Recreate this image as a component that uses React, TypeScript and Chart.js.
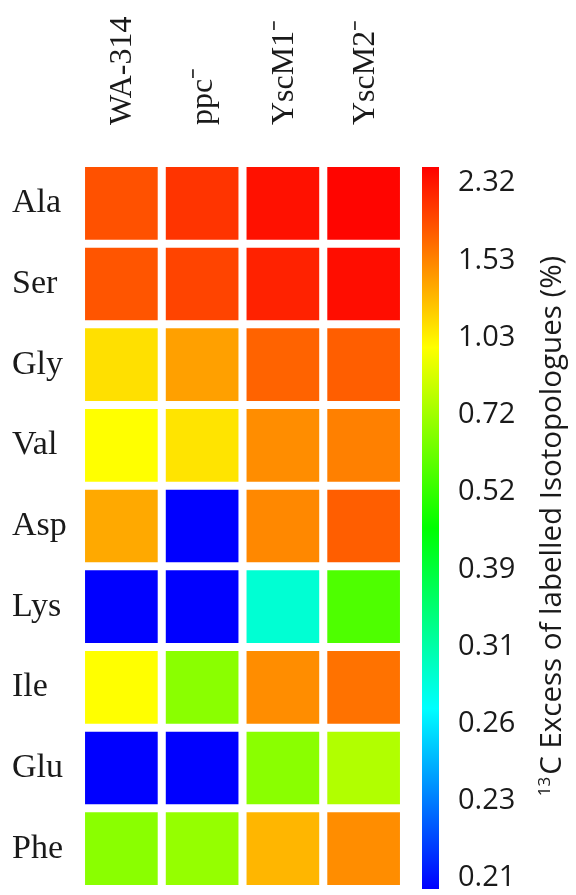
import React, { useEffect, useRef } from 'react';
import { Chart, registerables } from 'chart.js';

Chart.register(...registerables);

// ---- data ----
const rows = ['Ala', 'Ser', 'Gly', 'Val', 'Asp', 'Lys', 'Ile', 'Glu', 'Phe'];
const columns = ['WA-314', 'ppc\u207B', 'YscM1\u207B', 'YscM2\u207B'];
const wa314 = [1.9, 1.87, 1.11, 0.99, 1.36, 0.2, 0.99, 0.2, 0.68];
const ppc = [2.11, 1.99, 1.4, 1.09, 0.2, 0.2, 0.68, 0.2, 0.7];
const yscM1 = [2.36, 2.24, 1.77, 1.49, 1.51, 0.29, 1.49, 0.68, 1.3];
const yscM2 = [2.45, 2.39, 1.81, 1.56, 1.81, 0.57, 1.66, 0.77, 1.49];
const columnValues = [wa314, ppc, yscM1, yscM2];
// colour bar tick labels, bottom to top
const colorbarTicks = [0.21, 0.23, 0.26, 0.31, 0.39, 0.52, 0.72, 1.03, 1.53, 2.32];
const colorbarTitleSup = '13';
const colorbarTitle = 'C Excess of labelled Isotopologues (%)';

// colour bar axis range (in tick-index units)
const CB_MIN = -0.14;
const CB_MAX = 9.21;

function valueToPos(v: number): number {
  const t = colorbarTicks;
  const n = t.length;
  if (v <= t[0]) return (v - t[0]) / (t[1] - t[0]);
  for (let i = 1; i < n; i++) {
    if (v <= t[i]) return i - 1 + (v - t[i - 1]) / (t[i] - t[i - 1]);
  }
  return n - 1 + (v - t[n - 1]) / (t[n - 1] - t[n - 2]);
}

function valueToColor(v: number): string {
  let f = (valueToPos(v) - CB_MIN) / (CB_MAX - CB_MIN);
  f = Math.max(0, Math.min(1, f));
  const hue = 240 * (1 - f);
  return `hsl(${hue.toFixed(1)}, 100%, 50%)`;
}

const serif = 'Liberation Serif';
const sans = 'Open Sans';
const textColor = '#1a1a1a';

const zeroPadding = (scale: any) => {
  scale.paddingTop = 0;
  scale.paddingBottom = 0;
  scale.paddingLeft = 0;
  scale.paddingRight = 0;
};

const titlePlugin = {
  id: 'cbTitle',
  afterDraw(chart: any) {
    const { ctx, chartArea } = chart;
    const cx = 140;
    const cy = (chartArea.top + chartArea.bottom) / 2 - 2;
    ctx.save();
    ctx.translate(cx, cy);
    ctx.rotate(-Math.PI / 2);
    ctx.fillStyle = textColor;
    ctx.textBaseline = 'alphabetic';
    ctx.textAlign = 'left';
    const mainFont = `29.5px "${sans}"`;
    const supFont = `17px "${sans}"`;
    ctx.font = supFont;
    const supW = ctx.measureText(colorbarTitleSup).width + 2;
    ctx.font = mainFont;
    const mainW = ctx.measureText(colorbarTitle).width;
    const total = supW + mainW;
    const x0 = -total / 2;
    const base = 11;
    ctx.font = supFont;
    ctx.fillText(colorbarTitleSup, x0, base - 11);
    ctx.font = mainFont;
    ctx.fillText(colorbarTitle, x0 + supW, base);
    ctx.restore();
  },
};

export default function App() {
  const heatRef = useRef<HTMLCanvasElement | null>(null);
  const barRef = useRef<HTMLCanvasElement | null>(null);

  useEffect(() => {
    const heatmap = new Chart(heatRef.current as HTMLCanvasElement, {
      type: 'bar',
      data: {
        labels: columns,
        datasets: rows.map((row, i) => ({
          label: row,
          data: columns.map(() => [i - 0.45, i + 0.45]),
          backgroundColor: columnValues.map((col) => valueToColor(col[i])),
          borderWidth: 0,
          grouped: false,
          barPercentage: 1,
          categoryPercentage: 0.9,
        })),
      },
      options: {
        responsive: false,
        animation: false,
        layout: { padding: { left: 12, right: 6, top: 0, bottom: 6 } },
        plugins: { legend: { display: false }, tooltip: { enabled: false } },
        scales: {
          x: {
            position: 'top',
            grid: { display: false, drawTicks: false },
            border: { display: false },
            ticks: {
              minRotation: 90,
              maxRotation: 90,
              padding: 38,
              labelOffset: 40,
              color: textColor,
              font: { family: serif, size: 32 },
            },
            afterFit: (scale: any) => {
              scale.height = 163;
              zeroPadding(scale);
            },
          },
          y: {
            type: 'linear',
            reverse: true,
            min: -0.5,
            max: 8.5,
            grid: { display: false, drawTicks: false },
            border: { display: false },
            afterBuildTicks: (scale: any) => {
              scale.ticks = rows.map((_, i) => ({ value: i }));
            },
            ticks: {
              autoSkip: false,
              crossAlign: 'far',
              color: textColor,
              font: { family: serif, size: 34 },
              callback: (v: any) => rows[Math.round(v)] ?? '',
            },
            afterFit: (scale: any) => {
              scale.width = 69;
              zeroPadding(scale);
            },
          },
        },
      },
    } as any);

    const colorbar = new Chart(barRef.current as HTMLCanvasElement, {
      type: 'bar',
      data: {
        labels: ['scale'],
        datasets: [
          {
            data: [[CB_MIN, CB_MAX]],
            borderWidth: 0,
            barPercentage: 1,
            categoryPercentage: 1,
            backgroundColor: (c: any) => {
              const area = c.chart.chartArea;
              if (!area) return '#ff0000';
              const g = c.chart.ctx.createLinearGradient(0, area.bottom, 0, area.top);
              g.addColorStop(0, '#0000ff');
              g.addColorStop(0.25, '#00ffff');
              g.addColorStop(0.5, '#00ff00');
              g.addColorStop(0.75, '#ffff00');
              g.addColorStop(1, '#ff0000');
              return g;
            },
          },
        ],
      },
      options: {
        responsive: false,
        animation: false,
        layout: { padding: { left: 12, right: 0, top: 167, bottom: 6 } },
        plugins: { legend: { display: false }, tooltip: { enabled: false } },
        scales: {
          x: { display: false },
          y: {
            position: 'right',
            min: CB_MIN,
            max: CB_MAX,
            grid: { display: false, drawTicks: false },
            border: { display: false },
            afterBuildTicks: (scale: any) => {
              scale.ticks = colorbarTicks.map((_, i) => ({ value: i }));
            },
            ticks: {
              autoSkip: false,
              padding: 19,
              color: textColor,
              font: { family: sans, size: 29 },
              callback: (v: any) => {
                const t = colorbarTicks[Math.round(v)];
                return t !== undefined ? t.toFixed(2) : '';
              },
            },
            afterFit: (scale: any) => {
              scale.width = 137;
              zeroPadding(scale);
            },
          },
        },
      },
      plugins: [titlePlugin],
    } as any);

    return () => {
      heatmap.destroy();
      colorbar.destroy();
    };
  }, []);

  return (
    <div style={{ position: 'absolute', left: 0, top: 0, width: 576, height: 895, background: '#fff' }}>
      <canvas ref={heatRef} width={410} height={895} style={{ position: 'absolute', left: 0, top: 0 }} />
      <canvas ref={barRef} width={166} height={895} style={{ position: 'absolute', left: 410, top: 0 }} />
    </div>
  );
}
